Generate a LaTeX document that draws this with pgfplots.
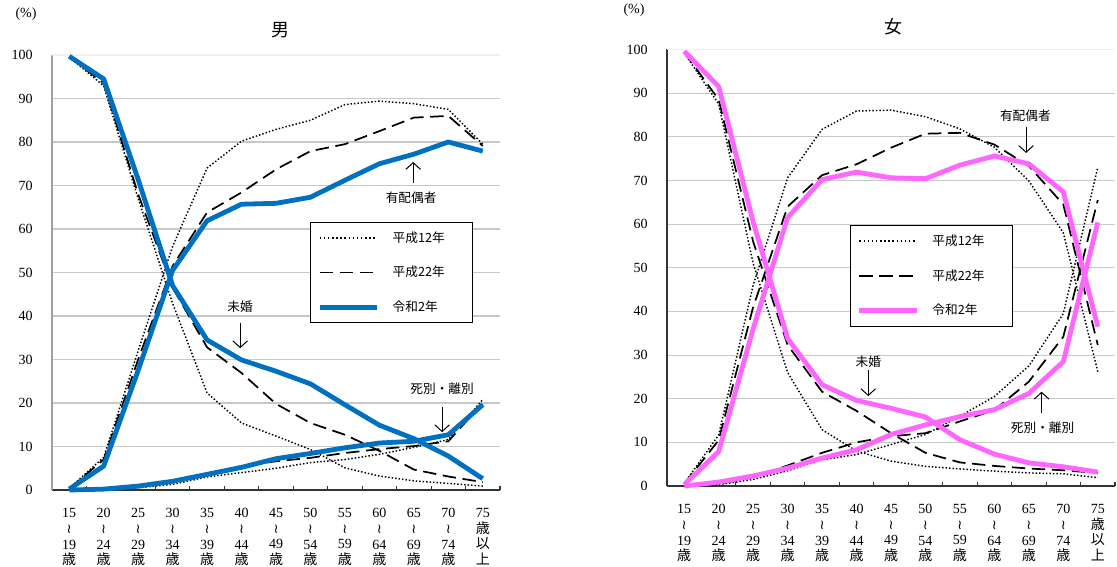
\documentclass[border=0pt]{standalone}
\usepackage{fontspec}
\setmainfont{Liberation Serif}
\newfontfamily\cjk{Noto Sans CJK JP}
\newfontfamily\dvs{DejaVu Sans}
\usepackage{graphicx}
\usepackage{pgfplots}
\usepackage{pgfplotstable}
\pgfplotsset{compat=1.18}
\usetikzlibrary{arrows.meta}
\definecolor{rblue}{HTML}{0070C0}
\definecolor{rpink}{HTML}{FF66FF}
\definecolor{gridc}{HTML}{C8C8C8}

\newcommand{\wv}{{\dvs\fontsize{10}{10}\selectfont ≀}}
\newcommand{\ag}[2]{#1\\[-1pt]\wv\\[-1pt]#2\\[-1pt]{\cjk 歳}}
\newcommand{\tfont}{\fontsize{10.5}{12.9}\selectfont}

% columns: u = 未婚, m = 有配偶者, w = 死別・離別 ; 12 = 平成12年, 22 = 平成22年, 2 = 令和2年
\pgfplotstableread{
x u12 u22 u2 m12 m22 m2 w12 w22 w2
0 99.5 99.6 99.7 0.4 0.3 0.2 0.0 0.0 0.0
1 92.9 93.5 94.5 7.5 7.0 5.5 0.1 0.2 0.2
2 67.0 68.0 71.4 32.0 30.0 27.5 0.5 0.8 0.9
3 42.9 46.5 47.0 56.0 51.5 50.5 1.3 2.0 2.0
4 22.3 32.8 34.5 74.0 63.8 61.9 3.0 3.7 3.6
5 15.4 26.9 29.9 80.2 68.4 65.7 4.0 5.5 5.2
6 12.4 19.8 27.3 82.9 73.7 65.9 5.0 6.6 7.2
7 9.3 15.4 24.4 85.0 77.9 67.3 6.3 7.4 8.4
8 5.1 12.7 19.6 88.6 79.5 71.2 7.0 8.5 9.7
9 3.2 9.0 14.9 89.4 82.5 75.0 8.2 9.4 10.8
10 2.1 4.7 11.8 88.8 85.6 77.2 9.8 10.1 11.2
11 1.5 3.1 7.8 87.5 86.0 80.0 11.6 11.2 12.7
12 0.9 1.8 2.6 79.5 79.1 77.9 20.8 20.0 19.6
}\male

\pgfplotstableread{
x u12 u22 u2 m12 m22 m2 w12 w22 w2
0 99.2 99.4 99.6 0.6 0.5 0.3 0.0 0.0 0.0
1 87.5 88.5 91.5 11.7 10.5 7.9 0.3 0.5 0.9
2 51.0 56.0 60.5 46.0 41.0 36.0 1.5 2.0 2.3
3 26.0 32.3 33.8 70.6 64.0 61.5 3.5 4.7 4.1
4 12.9 21.6 23.2 81.7 71.2 70.2 6.0 7.6 6.4
5 8.0 17.2 19.6 85.9 73.7 71.9 7.2 10.0 8.3
6 5.7 12.1 17.8 86.1 77.5 70.6 9.5 11.4 11.8
7 4.5 7.6 15.8 84.6 80.7 70.4 11.8 12.1 14.0
8 3.9 5.4 10.6 81.8 80.9 73.5 16.0 14.8 15.9
9 3.4 4.6 7.3 77.6 78.2 75.6 20.5 17.4 17.5
10 3.0 4.0 5.3 69.9 73.3 73.8 27.5 23.9 21.2
11 2.8 3.6 4.4 58.0 64.5 67.4 39.5 34.2 28.5
12 1.9 3.0 3.2 26.2 32.3 36.5 73.0 65.5 60.4
}\female

\tikzset{
  ann/.style={font=\cjk\fontsize{9.5}{11}\selectfont},
  arr/.style={-{Straight Barb[length=5pt,width=11pt]}, line width=0.75pt},
  lgd/.style={draw=black, line width=0.8pt, font=\cjk\fontsize{9.5}{11}\selectfont,
    row sep=12.5pt, column sep=8pt, inner xsep=5pt, inner ysep=5pt, fill=white},
}

\pgfplotsset{
  panel/.style={
    scale only axis, width=336pt,
    xmin=-0.5, xmax=12.5, ymin=0, ymax=100,
    axis x line=bottom, axis y line=left,
    axis line style={-, line width=0.9pt},
    x axis line style={black!80},
    xtick={0,...,12},
    xticklabels={{\ag{15}{19}},{\ag{20}{24}},{\ag{25}{29}},{\ag{30}{34}},{\ag{35}{39}},{\ag{40}{44}},{\ag{45}{49}},{\ag{50}{54}},{\ag{55}{59}},{\ag{60}{64}},{\ag{65}{69}},{\ag{70}{74}},{75\\[-1pt]{\cjk 歳}\\[-1pt]{\cjk 以}\\[-1pt]{\cjk 上}}},
    major x tick style={draw=none},
    minor xtick={-0.5,0.5,...,12.5},
    minor tick length=3pt,
    minor x tick style={black!80, line width=0.8pt},
    tick align=inside,
    ytick={0,10,...,90},
    extra y ticks={100},
    extra y tick style={grid style={gray!12, line width=0.8pt}},
    major y tick style={draw=none},
    ymajorgrids=true,
    grid style={gridc, line width=0.8pt},
    /pgf/number format/assume math mode=true,
    yticklabel style={font=\fontsize{10.5}{12}\selectfont, xshift=-11pt},
    xticklabel style={align=center, font=\tfont, yshift=-10pt},
    clip=false,
    legend image code/.code={\draw[#1] (0pt,0pt) -- (43pt,0pt);},
    legend cell align=left,
  },
  p12/.style={black, line width=1.1pt, dash pattern=on 1.1pt off 1.5pt, forget plot},
  p22/.style={black, line width=1.3pt, dash pattern=on 10pt off 5pt, forget plot},
  pr2/.style={line width=3.6pt, line join=round, forget plot},
}

\begin{document}
\begin{tikzpicture}
\useasboundingbox (0,0) rectangle (837.75pt,425.25pt);

% ---------- 男 ----------
\begin{axis}[panel, at={(39pt,57.75pt)}, anchor=south west, height=326.25pt,
  y axis line style={gray!75},
  legend style={lgd, at={(rel axis cs:0.576,0.617)}, anchor=north west}]
\addlegendimage{black, line width=1.1pt, dash pattern=on 1.1pt off 2pt}
\addlegendentry{平成12年\hspace*{14pt}}
\addlegendimage{black, line width=1.3pt, dash pattern=on 10pt off 5pt}
\addlegendentry{平成22年\hspace*{14pt}}
\addlegendimage{rblue, line width=3.6pt}
\addlegendentry{令和2年\hspace*{14pt}}
\addplot[p12] table[x=x,y=u12]{\male};
\addplot[p12] table[x=x,y=m12]{\male};
\addplot[p12] table[x=x,y=w12]{\male};
\addplot[p22] table[x=x,y=u22]{\male};
\addplot[p22] table[x=x,y=m22]{\male};
\addplot[p22] table[x=x,y=w22]{\male};
\addplot[pr2, rblue] table[x=x,y=u2]{\male};
\addplot[pr2, rblue] table[x=x,y=m2]{\male};
\addplot[pr2, rblue] table[x=x,y=w2]{\male};
\node[ann] at (axis cs:9.92,67.1) {有配偶者};
\draw[arr] (axis cs:9.98,70.6) -- (axis cs:9.98,75.4);
\node[ann] at (axis cs:4.96,42.1) {未婚};
\draw[arr] (axis cs:4.96,38.4) -- (axis cs:4.96,32.6);
\node[ann] at (axis cs:10.82,23.2) {死別・離別};
\draw[arr] (axis cs:10.82,19.1) -- (axis cs:10.82,13.3);
\end{axis}

% ---------- 女 ----------
\begin{axis}[panel, at={(500.25pt,60.75pt)}, anchor=south west, height=327.4pt,
  y axis line style={black!80},
  legend style={lgd, at={(rel axis cs:0.408,0.598)}, anchor=north west}]
\addlegendimage{black, line width=1.1pt, dash pattern=on 1.1pt off 2pt}
\addlegendentry{平成12年\hspace*{14pt}}
\addlegendimage{black, line width=1.3pt, dash pattern=on 10pt off 5pt}
\addlegendentry{平成22年\hspace*{14pt}}
\addlegendimage{rpink, line width=3.6pt}
\addlegendentry{令和2年\hspace*{14pt}}
\addplot[p12] table[x=x,y=u12]{\female};
\addplot[p12] table[x=x,y=m12]{\female};
\addplot[p12] table[x=x,y=w12]{\female};
\addplot[p22] table[x=x,y=u22]{\female};
\addplot[p22] table[x=x,y=m22]{\female};
\addplot[p22] table[x=x,y=w22]{\female};
\addplot[pr2, rpink] table[x=x,y=u2]{\female};
\addplot[pr2, rpink] table[x=x,y=m2]{\female};
\addplot[pr2, rpink] table[x=x,y=w2]{\female};
\node[ann] at (axis cs:9.9,84.8) {有配偶者};
\draw[arr] (axis cs:9.92,82.2) -- (axis cs:9.92,76.3);
\node[ann] at (axis cs:5.34,28.5) {未婚};
\draw[arr] (axis cs:5.34,26.6) -- (axis cs:5.34,20.6);
\node[ann] at (axis cs:10.4,13.3) {死別・離別};
\draw[arr] (axis cs:10.37,16.8) -- (axis cs:10.37,21.6);
\end{axis}

% titles and unit labels
\node[font=\cjk\fontsize{13.5}{16}\selectfont] at (210pt,402.75pt) {男};
\node[font=\cjk\fontsize{13.5}{16}\selectfont] at (669.75pt,405pt) {女};
\node[font=\fontsize{10.5}{12}\selectfont] at (19.5pt,414.75pt) {(\%)};
\node[font=\fontsize{10.5}{12}\selectfont] at (475.5pt,417.75pt) {(\%)};
\end{tikzpicture}
\end{document}
